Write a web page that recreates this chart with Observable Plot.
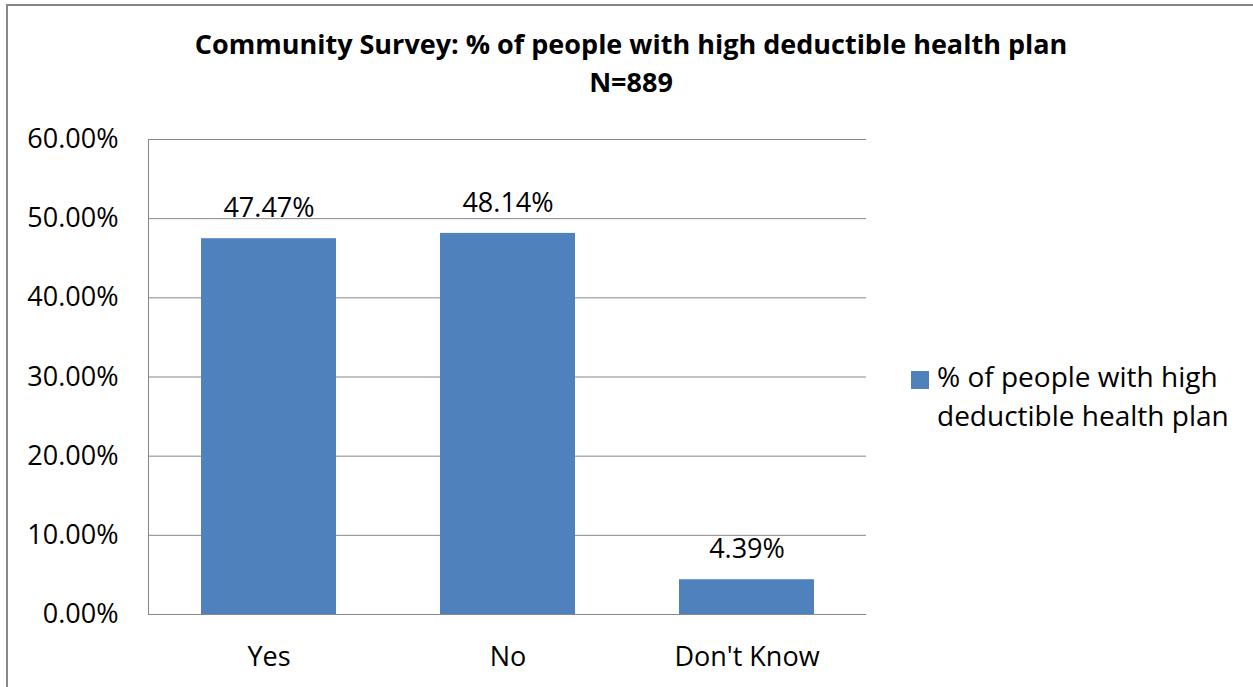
<!DOCTYPE html>
<html>
<head>
<meta charset="utf-8">
<script src="https://cdn.jsdelivr.net/npm/d3@7"></script>
<script src="https://cdn.jsdelivr.net/npm/@observablehq/plot@0.6"></script>
<style>
  html, body { margin: 0; padding: 0; background: #fff; }
  #wrap { position: relative; width: 1253px; height: 687px; overflow: hidden; font-family: "Open Sans", "Noto Sans", sans-serif; }
  #frame { position: absolute; left: 6px; top: 4px; width: 1260px; height: 700px; border: 2px solid #878787; box-sizing: border-box; pointer-events: none; }
  #title { position: absolute; left: 0; width: 1262px; top: 25px; text-align: center; font-weight: bold; font-size: 27px; line-height: 38px; color: #000; }
  #legend { position: absolute; left: 911px; top: 357px; font-size: 28px; line-height: 39px; color: #000; }
  #legend .sw { position: absolute; left: 0; top: 14px; width: 18px; height: 18px; background: #4F81BD; }
  #legend .tx { position: absolute; left: 26px; top: 0; white-space: nowrap; }
  #chart { position: absolute; left: 0; top: 0; }
</style>
</head>
<body>
<div id="wrap">
  <div id="chart"></div>
  <div id="title">Community Survey: % of people with high deductible health plan<br>N=889</div>
  <div id="legend"><div class="sw"></div><div class="tx">% of people with high<br>deductible health plan</div></div>
  <div id="frame"></div>
</div>
<script>
const categories = ["Yes", "No", "Don't Know"];
const values = [0.4747, 0.4814, 0.0439];
const yTicks = [0, 0.1, 0.2, 0.3, 0.4, 0.5, 0.6];
const seriesName = "% of people with high deductible health plan";

const data = categories.map((c, i) => ({category: c, value: values[i]}));
const fmt = d3.format(".2%");

const chart = Plot.plot({
  width: 1253,
  height: 687,
  marginLeft: 148,
  marginRight: 387,
  marginTop: 139,
  marginBottom: 73,
  style: {fontFamily: "'Open Sans', 'Noto Sans', sans-serif", fontSize: "27px", color: "#000", background: "transparent"},
  x: {domain: categories, paddingInner: 0.436, paddingOuter: 0.218, label: null},
  y: {domain: [0, 0.6], label: null},
  marks: [
    Plot.gridY(yTicks, {stroke: "#868686", strokeOpacity: 1, strokeWidth: 1}),
    Plot.barY(data, {x: "category", y: "value", fill: "#4F81BD"}),
    Plot.axisY({ticks: yTicks, tickFormat: fmt, tickSize: 0, tickPadding: 30, fontSize: 27, label: null}),
    Plot.axisX({tickSize: 0, tickPadding: 32, fontSize: 27, label: null}),
    Plot.frame({anchor: "left", stroke: "#868686"}),
    Plot.text(data, {x: "category", y: "value", text: d => fmt(d.value), dy: -30, fontSize: 27, fill: "#000"})
  ]
});
document.getElementById("chart").appendChild(chart);
</script>
</body>
</html>
